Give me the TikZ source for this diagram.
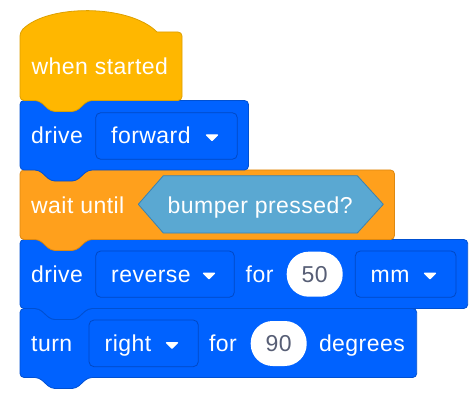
\documentclass[tikz,border=0pt]{standalone}
\usepackage{fontspec}
\setmainfont[LetterSpace=2]{Liberation Sans}
\definecolor{hatfill}{RGB}{255,183,0}
\definecolor{hatline}{RGB}{221,160,0}
\definecolor{bluefill}{RGB}{0,98,255}
\definecolor{blueline}{RGB}{0,80,210}
\definecolor{ddline}{RGB}{0,72,196}
\definecolor{orfill}{RGB}{255,160,28}
\definecolor{orline}{RGB}{222,136,16}
\definecolor{hexfill}{RGB}{90,168,210}
\definecolor{hexline}{RGB}{60,130,176}
\definecolor{pilltext}{RGB}{87,94,117}
\tikzset{
  hatblk/.style={fill=hatfill, draw=hatline, line width=0.8pt},
  blueblk/.style={fill=bluefill, draw=blueline, line width=0.8pt},
  orblk/.style={fill=orfill, draw=orline, line width=0.8pt},
  ddbox/.style={fill=bluefill, draw=ddline, line width=0.8pt, rounded corners=5pt},
  pillbox/.style={fill=white, draw=none, rounded corners=22pt},
  hexbox/.style={fill=hexfill, draw=hexline, line width=0.8pt, line join=round},
  lbl/.style={text=white, font=\fontsize{23}{27}\selectfont, inner sep=0pt, anchor=base west},
  numlbl/.style={text=pilltext, font=\fontsize{23}{27}\selectfont, inner sep=0pt, anchor=base},
  ddarrow/.style={fill=white, draw=white, line width=1.2pt, line join=round},
}
\newcommand{\vxblock}[4]{%
  \draw[#1, rounded corners=4pt] (20,#3) -- (39,#3) -- (51,#3+11) -- (76,#3+11) -- (88,#3) -- (#2,#3) -- (#2,#4) -- (88,#4) -- (76,#4+11) -- (51,#4+11) -- (39,#4) -- (20,#4) -- cycle;}
\newcommand{\vxarrow}[2]{%
  \draw[ddarrow] (#1-5.5,#2-9) -- (#1+5.5,#2-9) -- (#1,#2-3.5) -- cycle;}
\begin{document}
\begin{tikzpicture}[x=1pt,y=-1pt]
\useasboundingbox (0,0) rectangle (476,414);
% blocks, bottom first so tabs overlay correctly
\vxblock{blueblk}{416.7}{308.5}{377.5}
\vxblock{blueblk}{467.7}{239.5}{308.5}
\vxblock{orblk}{394.5}{170}{239.5}
\vxblock{blueblk}{248.5}{100.5}{170}
\draw[hatblk, rounded corners=4pt] (157,32) -- (182,32) -- (182,100.5) -- (88,100.5) -- (76,111.5) -- (51,111.5) -- (39,100.5) -- (20,100.5) -- (20,32) [sharp corners] .. controls (48,4) and (129,4) .. (157,32) -- cycle;
% row 1
\node[lbl] (t1) at (31.5,75) {when started};
% row 2
\node[lbl] (d2) at (31,144) {drive};
\draw[ddbox] (95.7,112.7) rectangle (237.3,159.3);
\node[lbl] (f2) at (111,144) {forward};
\vxarrow{212}{144}
% row 3
\node[lbl] (w3) at (31,213) {wait until};
\draw[hexbox] (138.3,204.3) -- (163.3,175.7) -- (357.3,175.7) -- (383.3,204.3) -- (357.3,233) -- (163.3,233) -- cycle;
\node[lbl] (b3) at (167.5,213) {bumper pressed?};
% row 4
\node[lbl] (d4) at (31,282.3) {drive};
\draw[ddbox] (95.7,251) rectangle (234.3,297.3);
\node[lbl] (r4) at (111,282.3) {reverse};
\vxarrow{209}{282.3}
\node[lbl] (f4) at (245.5,282.3) {for};
\draw[pillbox] (286.7,251.7) rectangle (342.7,296.7);
\node[numlbl] (n4) at (314.7,282.3) {50};
\draw[ddbox] (355.3,251) rectangle (456,297.3);
\node[lbl] (m4) at (370.5,282.3) {mm};
\vxarrow{430}{282.3}
% row 5
\node[lbl] (t5) at (31,351.7) {turn};
\draw[ddbox] (89,320) rectangle (198.3,366.7);
\node[lbl] (r5) at (104.5,351.7) {right};
\vxarrow{172}{351.7}
\node[lbl] (f5) at (208.8,351.7) {for};
\draw[pillbox] (250.7,321) rectangle (306.7,366);
\node[numlbl] (n5) at (278.7,351.7) {90};
\node[lbl] (g5) at (318.8,351.7) {degrees};
\end{tikzpicture}
\end{document}
